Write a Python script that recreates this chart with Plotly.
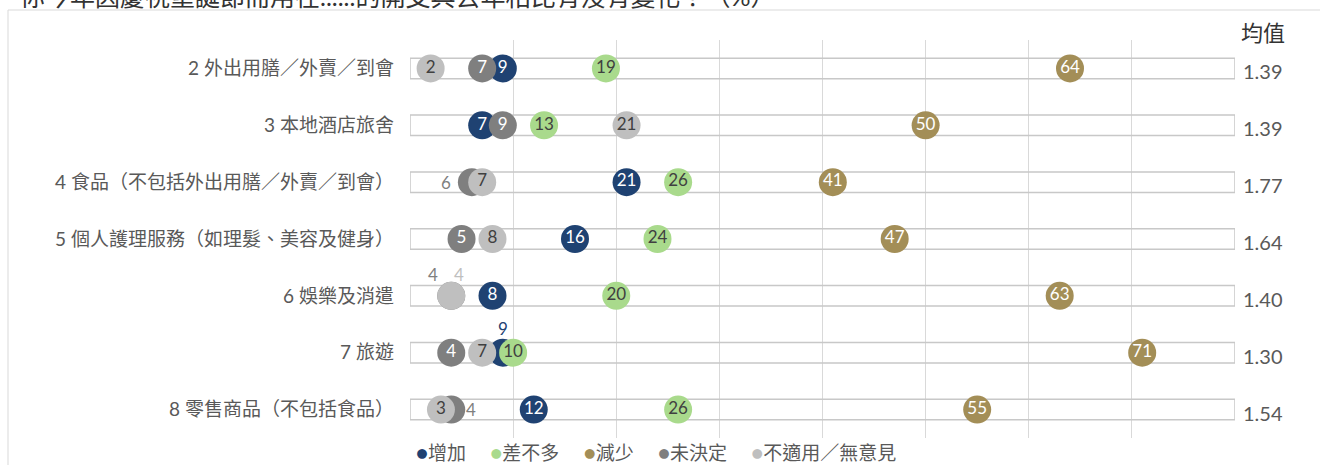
import plotly.graph_objects as go

# ---------------- data ----------------
categories = [
    "2 外出用膳／外賣／到會",
    "3 本地酒店旅舍",
    "4 食品（不包括外出用膳／外賣／到會）",
    "5 個人護理服務（如理髮、美容及健身）",
    "6 娛樂及消遣",
    "7 旅遊",
    "8 零售商品（不包括食品）",
]
increase = [9, 7, 21, 16, 8, 9, 12]
same = [19, 13, 26, 24, 20, 10, 26]
decrease = [64, 50, 41, 47, 63, 71, 55]
undecided = [7, 9, 6, 5, 4, 4, 4]
not_applicable = [2, 21, 7, 8, 4, 7, 3]
mean_values = [1.39, 1.39, 1.77, 1.64, 1.40, 1.30, 1.54]
series_names = ["增加", "差不多", "減少", "未決定", "不適用／無意見"]
mean_header = "均值"
title_text = "你今年因慶祝聖誕節而用在......的開支與去年相比有沒有變化？（%）"
axis_max = 80

# ---------------- styles ----------------
FONT = "Lato, 'Noto Sans CJK TC', sans-serif"
colors = {
    "增加": "#1F4272",
    "差不多": "#A9DA8C",
    "減少": "#A38E57",
    "未決定": "#7F7F7F",
    "不適用／無意見": "#BFBFBF",
}
inner_text = {
    "增加": "#FFFFFF",
    "差不多": "#404040",
    "減少": "#FFFFFF",
    "未決定": "#FFFFFF",
    "不適用／無意見": "#404040",
}
# outside label offsets (pixels) for crowded points: (series, row index) -> (dx, dy)
label_offset = {
    ("未決定", 2): (-26, 0),
    ("未決定", 4): (-18, 21),
    ("不適用／無意見", 4): (8, 21),
    ("增加", 5): (0, 24),
    ("未決定", 6): (20, 0),
}

values = {
    "增加": increase,
    "差不多": same,
    "減少": decrease,
    "未決定": undecided,
    "不適用／無意見": not_applicable,
}
draw_order = ["增加", "未決定", "不適用／無意見", "差不多", "減少"]

fig = go.Figure()

# row bands
fig.add_trace(go.Bar(
    x=[axis_max] * len(categories), y=categories, orientation="h",
    width=0.36, marker=dict(color="rgba(0,0,0,0)", line=dict(color="#C8C8C8", width=1.5)),
    hoverinfo="skip", showlegend=False,
))

annotations = []
for name in draw_order:
    vals = values[name]
    texts = []
    for i, v in enumerate(vals):
        off = label_offset.get((name, i))
        if off is None:
            texts.append(str(v))
        else:
            texts.append("")
            annotations.append(dict(
                x=v, y=categories[i], xref="x", yref="y", text=str(v),
                showarrow=False, xshift=off[0], yshift=off[1],
                font=dict(family=FONT, size=17, color=colors[name]),
            ))
    fig.add_trace(go.Scatter(
        x=vals, y=categories, mode="markers+text", name=name,
        marker=dict(size=28, color=colors[name], line=dict(width=0)),
        text=texts, textposition="middle center",
        textfont=dict(family=FONT, size=17, color=inner_text[name]),
        showlegend=False, cliponaxis=False,
    ))

# mean values on right
for c, m in zip(categories, mean_values):
    annotations.append(dict(
        x=1, xref="paper", y=c, yref="y", xanchor="left", yshift=-3, xshift=6,
        text=f"{m:.2f}", showarrow=False,
        font=dict(family=FONT, size=20, color="#595959"),
    ))
annotations.append(dict(
    x=1, xref="paper", y=1.0, yref="paper", xanchor="left", yanchor="bottom",
    xshift=4, yshift=-8, text=mean_header, showarrow=False,
    font=dict(family=FONT, size=22, color="#333333"),
))
# title (clipped at top as in reference)
annotations.append(dict(
    x=(18 - 410) / 825, xref="paper", y=(438 + 4) / 398, yref="paper",
    xanchor="left", yanchor="middle", text=title_text, showarrow=False,
    font=dict(family=FONT, size=25, color="#333333"),
))
# legend
gap = "&nbsp;" * 5
legend_html = gap.join(
    f"<span style='color:{colors[n]};font-size:20px'>●</span>{n}" for n in series_names
)
annotations.append(dict(
    x=(414 - 410) / 825, xref="paper", y=(438 - 452) / 398, yref="paper",
    xanchor="left", yanchor="middle", text=legend_html, showarrow=False,
    font=dict(family=FONT, size=19, color="#595959"),
))

shapes = [dict(
    type="rect", xref="paper", yref="paper",
    x0=(8 - 410) / 825, x1=1.2, y0=-0.2, y1=(438 - 10) / 398,
    line=dict(color="#D9D9D9", width=1), fillcolor="rgba(0,0,0,0)", layer="below",
)]

n = len(categories)
fig.update_layout(
    width=1320, height=465,
    margin=dict(l=410, r=85, t=40, b=27),
    plot_bgcolor="white", paper_bgcolor="white",
    font=dict(family=FONT, color="#595959"),
    annotations=annotations, shapes=shapes,
    barmode="overlay",
    xaxis=dict(range=[0, axis_max], dtick=10, showticklabels=False,
               showgrid=True, gridcolor="#D9D9D9", gridwidth=1.3,
               zeroline=False, showline=False, fixedrange=True),
    yaxis=dict(range=[n - 0.5, -0.5], showgrid=False, zeroline=False,
               ticks="", ticklabelstandoff=15,
               tickfont=dict(family=FONT, size=19, color="#595959")),
)

fig.write_html("out.html", config={"displayModeBar": False},
               post_script="document.body.style.margin='0px';")
